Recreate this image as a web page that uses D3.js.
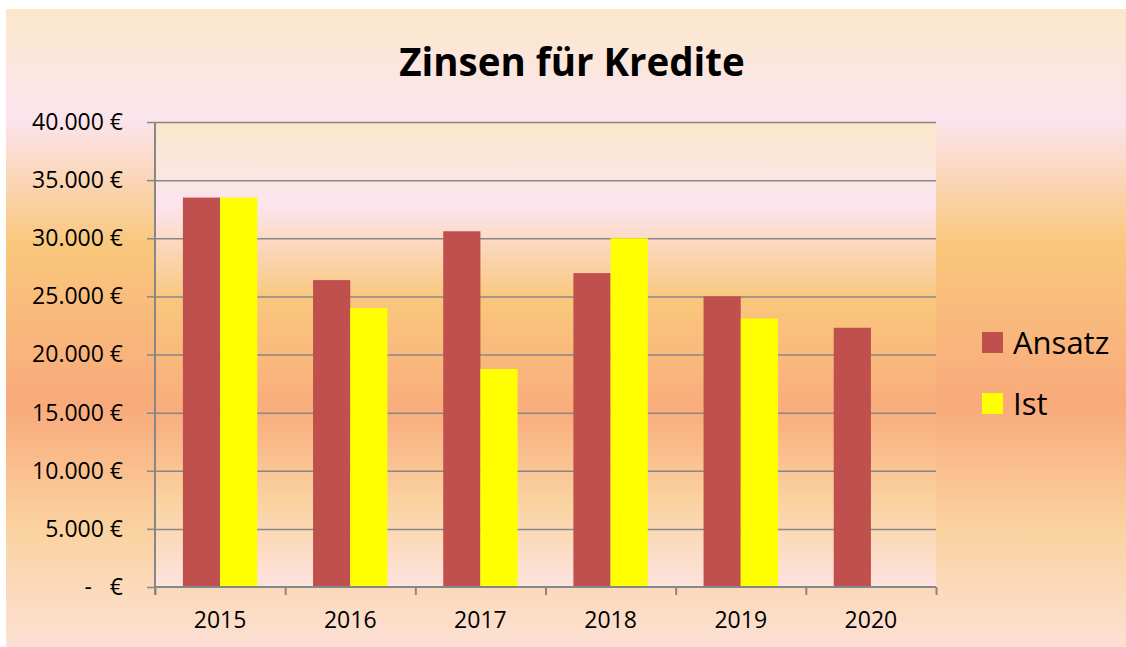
<!DOCTYPE html>
<html>
<head>
<meta charset="utf-8">
<script src="https://cdn.jsdelivr.net/npm/d3@7"></script>
<style>
  html, body { margin: 0; padding: 0; background: #ffffff; }
  svg { display: block; }
  text { font-family: "Open Sans", "DejaVu Sans", sans-serif; fill: #000; }
</style>
</head>
<body>
<svg id="chart" width="1126" height="647"></svg>
<script>
// Interest on loans: budgeted (Ansatz) vs. actual (Ist), per year
const years = ["2015", "2016", "2017", "2018", "2019", "2020"];
const ansatz = [33500, 26400, 30600, 27000, 25000, 22300];
const ist = [33500, 24000, 18750, 30000, 23100, null];
const seriesNames = ["Ansatz", "Ist"];
const seriesColors = ["#C0504D", "#FFFF00"];
const yTicks = [0, 5000, 10000, 15000, 20000, 25000, 30000, 35000, 40000];

const svg = d3.select("#chart");
const W = 1126, H = 647;
const frame = { left: 6, top: 9 };
const plot = { left: 155, right: 936, top: 122, bottom: 587 };

// Warm multi-stop background gradient
const defs = svg.append("defs");
function addGradient(id, stops) {
  const g = defs.append("linearGradient").attr("id", id)
    .attr("x1", 0).attr("y1", 0).attr("x2", 0).attr("y2", 1);
  stops.forEach(([o, c]) => g.append("stop").attr("offset", o).attr("stop-color", c));
}
addGradient("bgOuter", [
  [0, "#FBE8CA"], [0.17, "#FCE4EE"], [0.37, "#F9C77C"],
  [0.62, "#F9AA7B"], [0.82, "#FAD3A1"], [1, "#FCE0D4"]
]);
addGradient("bgPlot", [
  [0, "#FBE8CA"], [0.18, "#FCE4EE"], [0.38, "#F9C77C"],
  [0.62, "#F9AC7C"], [0.82, "#FAD3A1"], [1, "#FDE3DF"]
]);

svg.append("rect").attr("x", frame.left).attr("y", frame.top)
  .attr("width", W - frame.left).attr("height", H - frame.top)
  .attr("fill", "url(#bgOuter)");

svg.append("rect").attr("x", plot.left).attr("y", plot.top)
  .attr("width", plot.right - plot.left).attr("height", plot.bottom - plot.top)
  .attr("fill", "url(#bgPlot)");

// Scales
const x = d3.scaleBand().domain(years).range([plot.left, plot.right]).padding(0);
const xs = d3.scaleBand().domain(seriesNames).range([0, x.bandwidth()])
  .paddingInner(0).paddingOuter(0.75);
const y = d3.scaleLinear().domain([0, 40000]).range([plot.bottom, plot.top]);

// Horizontal gridlines
svg.append("g")
  .attr("transform", `translate(${plot.left},0)`)
  .call(d3.axisLeft(y).tickValues(yTicks.slice(1)).tickSize(-(plot.right - plot.left)).tickFormat(""))
  .call(g => g.select(".domain").remove())
  .call(g => g.selectAll("line").attr("stroke", "#878787").attr("stroke-width", 1.5));

// Bars
const rows = years.map((yr, i) => ({ year: yr, values: [ansatz[i], ist[i]] }));
const groups = svg.append("g").selectAll("g").data(rows).join("g")
  .attr("transform", d => `translate(${x(d.year)},0)`);
groups.selectAll("rect")
  .data(d => d.values.map((v, k) => ({ key: seriesNames[k], value: v, color: seriesColors[k] }))
    .filter(e => e.value != null))
  .join("rect")
  .attr("x", d => xs(d.key))
  .attr("width", xs.bandwidth())
  .attr("y", d => y(d.value))
  .attr("height", d => y(0) - y(d.value))
  .attr("fill", d => d.color);

// Y axis with accounting-style euro labels
const fmtNum = d3.formatLocale({ decimal: ",", thousands: ".", grouping: [3], currency: ["", " €"] }).format(",.0f");
const yAxis = svg.append("g")
  .attr("transform", `translate(${plot.left},0)`)
  .call(d3.axisLeft(y).tickValues(yTicks).tickSize(8).tickPadding(24)
    .tickFormat(d => d === 0 ? "-   €" : fmtNum(d) + " €"));
yAxis.select(".domain").remove();
yAxis.selectAll("line").attr("stroke", "#878787").attr("stroke-width", 1.5);
yAxis.selectAll("text").attr("font-size", 23).style("white-space", "pre")
  .attr("font-family", "'Open Sans', sans-serif").attr("fill", "#000");
svg.append("line")
  .attr("x1", plot.left).attr("x2", plot.left)
  .attr("y1", plot.top).attr("y2", plot.bottom + 8)
  .attr("stroke", "#878787").attr("stroke-width", 2);

// X axis: boundary ticks between categories
const xEdges = d3.scaleLinear().domain([0, years.length]).range([plot.left, plot.right]);
const xTickAxis = svg.append("g")
  .attr("transform", `translate(0,${plot.bottom})`)
  .call(d3.axisBottom(xEdges).tickValues(d3.range(years.length + 1)).tickSize(8).tickFormat(""));
xTickAxis.select(".domain").remove();
xTickAxis.selectAll("line").attr("stroke", "#878787").attr("stroke-width", 2);
svg.append("line")
  .attr("x1", plot.left).attr("x2", plot.right)
  .attr("y1", plot.bottom).attr("y2", plot.bottom)
  .attr("stroke", "#878787").attr("stroke-width", 2);

// X axis: year labels centred in each band
const xLabelAxis = svg.append("g")
  .attr("transform", `translate(0,${plot.bottom})`)
  .call(d3.axisBottom(x).tickSize(0).tickPadding(25));
xLabelAxis.select(".domain").remove();
xLabelAxis.selectAll("text").attr("font-size", 23)
  .attr("font-family", "'Open Sans', sans-serif").attr("fill", "#000");

// Title
svg.append("text")
  .attr("x", 572).attr("y", 76)
  .attr("text-anchor", "middle")
  .attr("font-size", 38.5).attr("font-weight", 700)
  .text("Zinsen für Kredite");

// Legend
const legend = svg.append("g").attr("transform", "translate(982,332)");
const legendItems = legend.selectAll("g").data(seriesNames).join("g")
  .attr("transform", (d, i) => `translate(0,${i * 61})`);
legendItems.append("rect").attr("width", 21).attr("height", 21)
  .attr("fill", (d, i) => seriesColors[i]);
legendItems.append("text").attr("x", 31).attr("y", 10.5).attr("dy", "0.36em")
  .attr("font-size", 31).text(d => d);
</script>
</body>
</html>
